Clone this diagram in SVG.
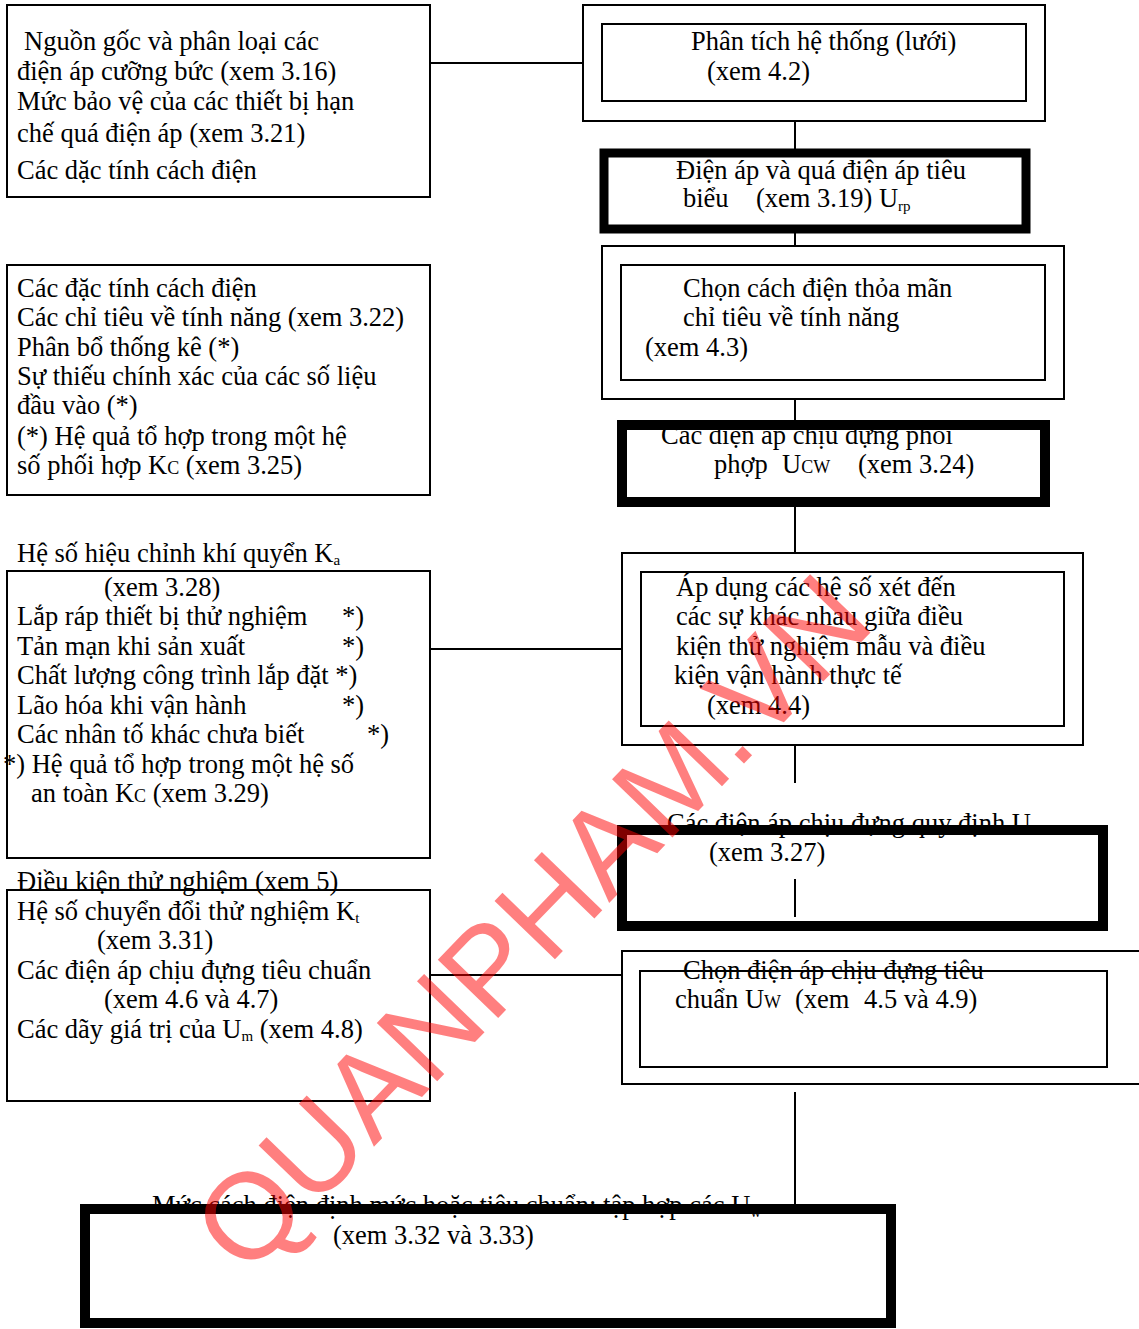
<svg xmlns="http://www.w3.org/2000/svg" width="1139" height="1329" viewBox="0 0 1139 1329">
<style>
text{font-family:"Liberation Serif","Times New Roman",serif;font-size:26.5px;fill:#000}
.sub{font-size:15px}
.sc{font-size:18px}
.thin{fill:none;stroke:#000;stroke-width:2}
.thick{fill:none;stroke:#000;stroke-width:10}
.con{stroke:#000;stroke-width:2;fill:none}
.wm{font-family:"Liberation Sans",Arial,sans-serif;font-size:122px;fill:#ff0000;fill-opacity:0.5}
</style>
<rect width="1139" height="1329" fill="#fff"/>
<g id="connectors">
<line class="con" x1="430" y1="63" x2="583" y2="63"/>
<line class="con" x1="795" y1="121" x2="795" y2="150"/>
<line class="con" x1="795" y1="230" x2="795" y2="247"/>
<line class="con" x1="795" y1="399" x2="795" y2="422"/>
<line class="con" x1="795" y1="505" x2="795" y2="553"/>
<line class="con" x1="430" y1="649" x2="622" y2="649"/>
<line class="con" x1="795" y1="745" x2="795" y2="783"/>
<line class="con" x1="795" y1="879" x2="795" y2="917"/>
<line class="con" x1="430" y1="975" x2="622" y2="975"/>
<line class="con" x1="795" y1="1092" x2="795" y2="1206"/>
</g>
<g id="n1">
<text x="24" y="50">Nguồn gốc và phân loại các</text>
<text x="17" y="80">điện áp cưỡng bức (xem 3.16)</text>
<text x="17" y="110">Mức bảo vệ của các thiết bị hạn</text>
<text x="17" y="142">chế quá điện áp (xem 3.21)</text>
<text x="17" y="179">Các dặc tính cách điện</text>
<rect class="thin" x="7" y="5" width="423" height="192"/>
</g>
<g id="n2">
<text x="17" y="297">Các đặc tính cách điện</text>
<text x="17" y="326">Các chỉ tiêu về tính năng (xem 3.22)</text>
<text x="17" y="356">Phân bổ thống kê (*)</text>
<text x="17" y="385">Sự thiếu chính xác của các số liệu</text>
<text x="17" y="414">đầu vào (*)</text>
<text x="17" y="445">(*) Hệ quả tổ hợp trong một hệ</text>
<text x="17" y="474">số phối hợp K<tspan class="sc">C</tspan> (xem 3.25)</text>
<rect class="thin" x="7" y="265" width="423" height="230"/>
</g>
<g id="n3">
<text x="17" y="562">Hệ số hiệu chỉnh khí quyển K<tspan class="sub" dy="3">a</tspan></text>
<text x="104" y="596">(xem 3.28)</text>
<text x="17" y="625">Lắp ráp thiết bị thử nghiệm</text><text x="342" y="625">*)</text>
<text x="17" y="655">Tản mạn khi sản xuất</text><text x="342" y="655">*)</text>
<text x="17" y="684">Chất lượng công trình lắp đặt *)</text>
<text x="17" y="714">Lão hóa khi vận hành</text><text x="342" y="714">*)</text>
<text x="17" y="743">Các nhân tố khác chưa biết</text><text x="367" y="743">*)</text>
<text x="3" y="773">*) Hệ quả tổ hợp trong một hệ số</text>
<text x="31" y="802">an toàn K<tspan class="sc">C</tspan> (xem 3.29)</text>
<rect class="thin" x="7" y="571" width="423" height="287"/>
</g>
<g id="n4">
<text x="17" y="890">Điều kiện thử nghiệm (xem 5)</text>
<text x="17" y="920">Hệ số chuyển đổi thử nghiệm K<tspan class="sub" dy="3">t</tspan></text>
<text x="97" y="949">(xem 3.31)</text>
<text x="17" y="979">Các điện áp chịu đựng tiêu chuẩn</text>
<text x="104" y="1008">(xem 4.6 và 4.7)</text>
<text x="17" y="1038">Các dãy giá trị của U<tspan class="sub" dy="3">m</tspan><tspan dy="-3"> (xem 4.8)</tspan></text>
<rect class="thin" x="7" y="890" width="423" height="211"/>
</g>
<g id="r1">
<text x="691" y="50">Phân tích hệ thống (lưới)</text>
<text x="707" y="80">(xem 4.2)</text>
<rect class="thin" x="583" y="5" width="462" height="116"/>
<rect class="thin" x="602" y="24" width="424" height="77"/>
</g>
<g id="r2">
<text x="676" y="179">Điện áp và quá điện áp tiêu</text>
<text x="683" y="207">biểu</text>
<text x="756" y="207">(xem 3.19) U<tspan class="sub" dy="4">rp</tspan></text>
<rect x="604" y="153" width="422" height="76" fill="none" stroke="#000" stroke-width="9"/>
</g>
<g id="r3">
<text x="683" y="297">Chọn cách điện thỏa mãn</text>
<text x="683" y="326">chỉ tiêu về tính năng</text>
<text x="645" y="356">(xem 4.3)</text>
<rect class="thin" x="602" y="246" width="462" height="153"/>
<rect class="thin" x="621" y="265" width="424" height="115"/>
</g>
<g id="r4">
<text x="661" y="444">Các điện áp chịu đựng phối</text>
<text x="714" y="473">phợp</text>
<text x="782" y="473">U<tspan class="sc">CW</tspan></text>
<text x="858" y="473">(xem 3.24)</text>
<rect class="thick" x="622" y="425" width="423" height="77"/>
</g>
<g id="r5">
<text x="676" y="596">Áp dụng các hệ số xét đến</text>
<text x="676" y="625">các sự khác nhau giữa điều</text>
<text x="676" y="655">kiện thử nghiệm mẫu và điều</text>
<text x="674" y="684">kiện vận hành thực tế</text>
<text x="707" y="714">(xem 4.4)</text>
<rect class="thin" x="622" y="553" width="461" height="192"/>
<rect class="thin" x="641" y="572" width="423" height="154"/>
</g>
<g id="r6">
<text x="667" y="832">Các điện áp chịu đựng quy định U<tspan class="sub" dy="3">rw</tspan></text>
<text x="709" y="861">(xem 3.27)</text>
<rect class="thick" x="622" y="830" width="481" height="96"/>
</g>
<g id="r7">
<text x="683" y="979">Chọn điện áp chịu đựng tiêu</text>
<text x="675" y="1008">chuẩn U<tspan class="sc">W</tspan></text>
<text x="795" y="1008">(xem</text>
<text x="864" y="1008">4.5 và 4.9)</text>
<rect class="thin" x="622" y="951" width="530" height="133"/>
<rect class="thin" x="640" y="971" width="467" height="96"/>
</g>
<g id="r8">
<text x="152" y="1214">Mức cách điện  định mức hoặc tiêu chuẩn: tập hợp các U<tspan class="sub" dy="3">w</tspan></text>
<text x="333" y="1244">(xem 3.32 và 3.33)</text>
<rect class="thick" x="85" y="1209" width="806" height="114"/>
</g>
<text class="wm" text-anchor="middle" transform="translate(562,952) rotate(-46)">QUANPHAM.VN</text>
</svg>
